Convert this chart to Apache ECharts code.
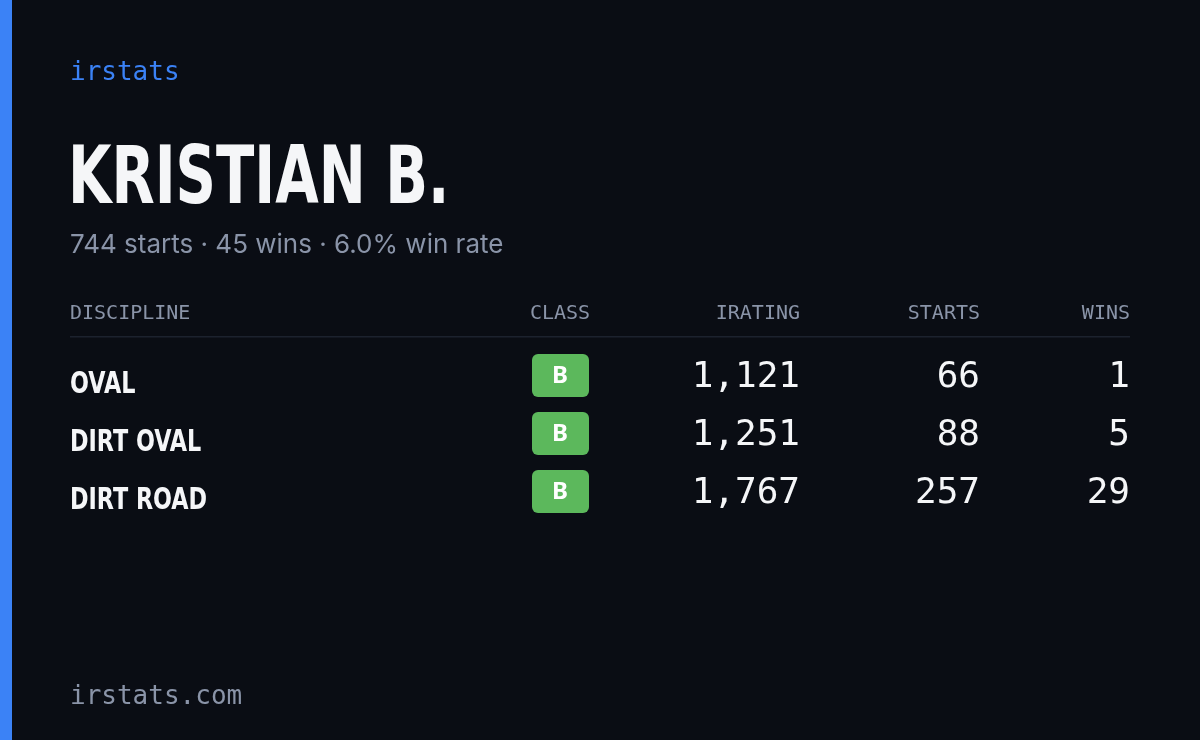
<!DOCTYPE html>
<html><head><meta charset="utf-8">
<script src="https://cdn.jsdelivr.net/npm/echarts@6/dist/echarts.min.js"></script>
<style>html,body{margin:0;padding:0;background:#0a0d14}#c{width:1200px;height:740px}</style>
</head><body><div id="c"></div>
<script>
const brand = "irstats";
const driverName = "KRISTIAN B.";
const summary = "744 starts · 45 wins · 6.0% win rate";
const headers = ["DISCIPLINE","CLASS","IRATING","STARTS","WINS"];
const disciplines = ["OVAL","DIRT OVAL","DIRT ROAD"];
const classes = ["B","B","B"];
const iratings = [1121,1251,1767];
const starts = [66,88,257];
const wins = [1,5,29];
const footer = "irstats.com";

const chart = echarts.init(document.getElementById('c'));
const mono = '"DejaVu Sans Mono", monospace';
const cond = '"DejaVu Sans Condensed","DejaVu Sans", sans-serif';
const fmt = v => v.toLocaleString('en-US');
const g = [];
g.push({type:'rect',shape:{x:0,y:0,width:1200,height:740},style:{fill:'#0a0d14'}});
g.push({type:'rect',shape:{x:0,y:0,width:12,height:740},style:{fill:'#3b82f6'}});
g.push({type:'text',x:70,y:73,style:{text:brand,fill:'#3b82f6',font:'500 26px '+mono,textVerticalAlign:'middle'}});
g.push({type:'text',x:68,y:182,scaleX:0.78,style:{text:driverName,fill:'#f5f6f8',font:'bold 80px '+cond,textVerticalAlign:'middle'}});
g.push({type:'text',x:70,y:245,style:{text:summary,fill:'#8a94a8',font:'26px Inter, "Noto Sans", sans-serif',textVerticalAlign:'middle'}});
const colX = [70,560,800,980,1130];
const colAlign = ['left','center','right','right','right'];
headers.forEach((h,i)=>g.push({type:'text',x:colX[i],y:314,style:{text:h,fill:'#8a94a8',font:'500 20px '+mono,textAlign:colAlign[i],textVerticalAlign:'middle'}}));
g.push({type:'rect',shape:{x:70,y:336,width:1060,height:1.5},style:{fill:'#1c222e'}});
disciplines.forEach((d,i)=>{
  const y = 380 + i*58;
  g.push({type:'text',x:70,y:y+5,scaleX:0.8,style:{text:d,fill:'#f5f6f8',font:'bold 31px '+cond,textVerticalAlign:'middle'}});
  g.push({type:'rect',shape:{x:532,y:y-26,width:57,height:43,r:6},style:{fill:'#5cb85c'}});
  g.push({type:'text',x:560,y:y-4,style:{text:classes[i],fill:'#ffffff',font:'bold 24px "Noto Sans", sans-serif',textAlign:'center',textVerticalAlign:'middle'}});
  [iratings[i],starts[i],wins[i]].forEach((v,j)=>g.push({type:'text',x:colX[j+2],y:y-2,style:{text:fmt(v),fill:'#f5f6f8',font:'500 36px '+mono,textAlign:'right',textVerticalAlign:'middle'}}));
});
g.push({type:'text',x:70,y:697,style:{text:footer,fill:'#8a94a8',font:'500 26px '+mono,textVerticalAlign:'middle'}});
chart.setOption({backgroundColor:'#0a0d14',graphic:g});
</script></body></html>
